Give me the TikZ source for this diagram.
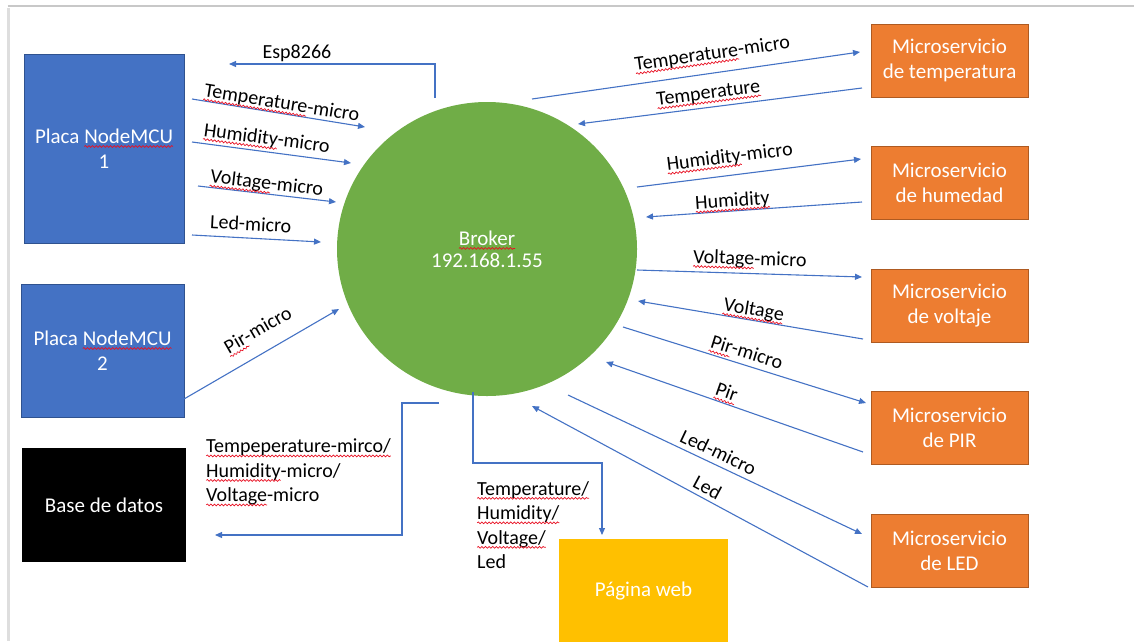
\documentclass[tikz,border=0pt]{standalone}
\usepackage{fontspec}
\setmainfont{Carlito}
\usetikzlibrary{arrows.meta,shapes.geometric,decorations.pathmorphing}

\definecolor{lineblue}{HTML}{4472C4}
\definecolor{boxblue}{HTML}{4472C4}
\definecolor{boxblueedge}{HTML}{2F528F}
\definecolor{brokergreen}{HTML}{70AD47}
\definecolor{msorange}{HTML}{ED7D31}
\definecolor{msorangeedge}{HTML}{AE5A21}
\definecolor{webyellow}{HTML}{FFC000}
\definecolor{spellred}{HTML}{E81123}
\definecolor{frametop}{HTML}{C8C8C8}
\definecolor{frameleft}{HTML}{DEDEDE}

% red wavy underline (spell-check mark) under a word
\newsavebox\sqbox
\newcommand\sq[1]{\sbox\sqbox{#1}\leavevmode\rlap{\usebox\sqbox}%
  \tikz[x=1pt,y=1pt,baseline=0pt]{%
    \useasboundingbox (0pt,0pt) rectangle (\the\wd\sqbox,0pt);
    \draw[spellred, line width=0.7pt, arrows=-, solid,
          decorate, decoration={snake, amplitude=0.9pt, segment length=3.6pt}]
      (0pt,-3.2pt) -- (\the\wd\sqbox,-3.2pt);}}

\begin{document}
\begin{tikzpicture}[x=1pt,y=-1pt,
  boxfont/.style={font=\fontsize{21}{25}\selectfont},
  lbl/.style={font=\fontsize{20}{24.5}\selectfont, inner sep=1pt, text=black},
  flow/.style={draw=lineblue, line width=1.1pt, -{Triangle[length=7pt,width=6pt]}},
  bluebox/.style={boxfont, rectangle, draw=boxblueedge, line width=0.8pt, fill=boxblue, text=white, align=center, inner sep=0pt},
  msbox/.style={boxfont, rectangle, draw=msorangeedge, line width=0.8pt, fill=msorange, text=white, align=center, inner sep=0pt, minimum width=157, minimum height=73},
]
\useasboundingbox (0,0) rectangle (1134,641);

% page frame
\draw[frameleft, line width=2.5pt] (8.5,8) -- (8.5,641);
\draw[frametop, line width=1.6pt] (7.5,6) -- (1134,6);

% devices and services
\node[bluebox, minimum width=160, minimum height=189] (mcu1) at (104,148.5) {Placa \sq{NodeMCU}\\1};
\node[bluebox, minimum width=163, minimum height=133] (mcu2) at (102.5,350.5) {Placa \sq{NodeMCU}\\2};
\node[boxfont, rectangle, fill=black, text=white, inner sep=0pt, minimum width=164, minimum height=114] (db) at (104,505) {Base de datos};
\node[boxfont, rectangle, fill=webyellow, text=white, inner sep=0pt, minimum width=169, minimum height=103] (web) at (643.5,590.5) {Página web};
\node[ellipse, fill=brokergreen, minimum width=300, minimum height=294, inner sep=0pt, text=white, align=center, font=\fontsize{21}{22}\selectfont] (broker) at (487,249) {\sq{Broker}\\192.168.1.55};

\node[msbox] (ms1) at (949.5,60.5) {Microservicio\\de temperatura};
\node[msbox] (ms2) at (949.5,183) {Microservicio\\de humedad};
\node[msbox] (ms3) at (949.5,306) {Microservicio\\de voltaje};
\node[msbox] (ms4) at (949.5,428) {Microservicio\\de PIR};
\node[msbox] (ms5) at (949.5,551) {Microservicio\\de LED};

% connector end points
\coordinate (es1) at (435,98);  \coordinate (es2) at (435,64);  \coordinate (es3) at (229,64);
\coordinate (tl1) at (192,99);  \coordinate (tl2) at (365,127);
\coordinate (hl1) at (192,142); \coordinate (hl2) at (351,163);
\coordinate (vl1) at (198,186); \coordinate (vl2) at (336,202);
\coordinate (ll1) at (192,235); \coordinate (ll2) at (321,242);
\coordinate (pl1) at (184,399); \coordinate (pl2) at (339,309);
\coordinate (db1) at (439,403); \coordinate (db2) at (402,403); \coordinate (db3) at (402,535); \coordinate (db4) at (215,535);
\coordinate (wb1) at (473,392); \coordinate (wb2) at (473,463); \coordinate (wb3) at (602,463); \coordinate (wb4) at (602,535);

\coordinate (rtm1) at (532,99);  \coordinate (rtm2) at (860,52);
\coordinate (rt1) at (862,88);   \coordinate (rt2) at (578,124);
\coordinate (rhm1) at (637,187); \coordinate (rhm2) at (861,159);
\coordinate (rh1) at (862,202);  \coordinate (rh2) at (646,217);
\coordinate (rvm1) at (637,270); \coordinate (rvm2) at (862,277);
\coordinate (rv1) at (863,339);  \coordinate (rv2) at (638,301);
\coordinate (rpm1) at (623,327); \coordinate (rpm2) at (866,403);
\coordinate (rp1) at (863,452);  \coordinate (rp2) at (606,362);
\coordinate (rlm1) at (568,395); \coordinate (rlm2) at (862,534);
\coordinate (rl1) at (868,587);  \coordinate (rl2) at (532,406);

% left side: boards to broker
\draw[flow] (es1) -- (es2) -- node[lbl, above=1pt, pos=.67] (esl) {Esp8266} (es3);
\draw[flow] (tl1) -- node[lbl, sloped, above, pos=.51] (tll) {\sq{Temperature}-micro} (tl2);
\draw[flow] (hl1) -- node[lbl, sloped, above=3pt, pos=.46] (hll) {\sq{Humidity}-micro} (hl2);
\draw[flow] (vl1) -- node[lbl, sloped, above, pos=.49] (vll) {\sq{Voltage}-micro} (vl2);
\draw[flow] (ll1) -- node[lbl, sloped, above=6pt, pos=.45] (lll) {Led-micro} (ll2);
\draw[flow] (pl1) -- node[lbl, sloped, above=15pt, pos=.55] (pll) {\sq{Pir}-micro} (pl2);

% broker to database and web page
\draw[flow] (db1) -- (db2) -- (db3) -- (db4);
\node[lbl, anchor=west, align=left] (dbl) at (205,472) {\sq{Tempeperature-mirco/}\\\sq{Humidity}-micro/\\\sq{Voltage}-micro};
\draw[flow] (wb1) -- (wb2) -- (wb3) -- (wb4);
\node[lbl, anchor=west, align=left] (wbl) at (476,525) {\sq{Temperature/}\\\sq{Humidity/}\\\sq{Voltage/}\\Led};

% right side: broker and microservices
\draw[flow] (rtm1) -- node[lbl, sloped, above=9pt, pos=.558] (rtml) {\sq{Temperature}-micro} (rtm2);
\draw[flow] (rt1) -- node[lbl, sloped, above=4pt, pos=.535] (rtl) {\sq{Temperature}} (rt2);
\draw[flow] (rhm1) -- node[lbl, sloped, above=8pt, pos=.424] (rhml) {\sq{Humidity}-micro} (rhm2);
\draw[flow] (rh1) -- node[lbl, sloped, above=0pt, pos=.597] (rhl) {\sq{Humidity}} (rh2);
\draw[flow] (rvm1) -- node[lbl, sloped, above=4pt, pos=.5] (rvml) {\sq{Voltage}-micro} (rvm2);
\draw[flow] (rv1) -- node[lbl, sloped, above=0pt, pos=.493] (rvl) {\sq{Voltage}} (rv2);
\draw[flow] (rpm1) -- node[lbl, sloped, above=5pt, pos=.494] (rpml) {\sq{Pir}-micro} (rpm2);
\draw[flow] (rp1) -- node[lbl, sloped, above=4pt, pos=.545] (rpl) {\sq{Pir}} (rp2);
\draw[flow] (rlm1) -- node[lbl, sloped, above=4pt, pos=.493] (rlml) {Led-micro} (rlm2);
\draw[flow] (rl1) -- node[lbl, sloped, above=3pt, pos=.494] (rll) {Led} (rl2);
\end{tikzpicture}
\end{document}
